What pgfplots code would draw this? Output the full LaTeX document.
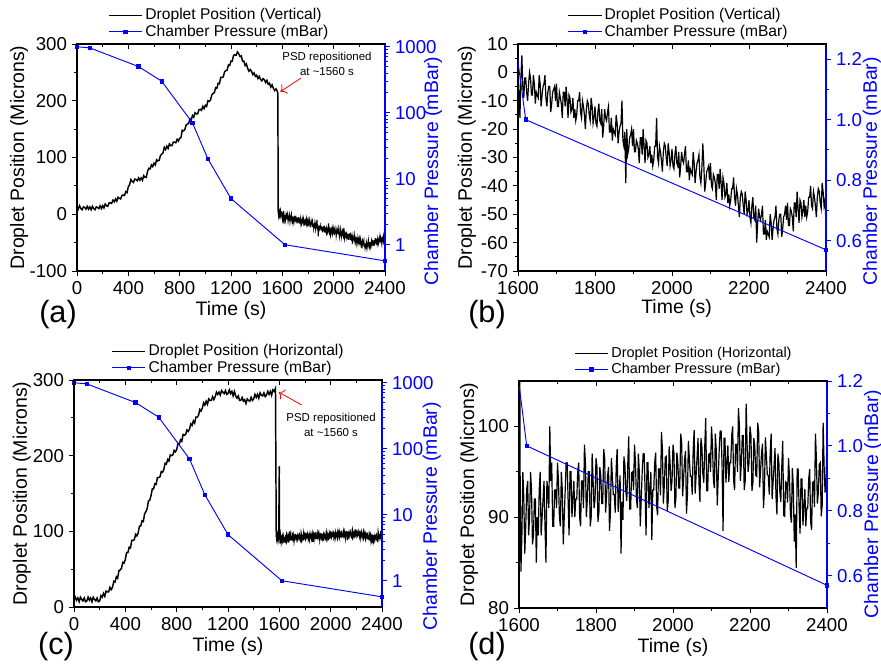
\documentclass[border=0pt]{standalone}
\usepackage{pgfplots}
\pgfplotsset{compat=1.18}
\usepackage{pgfplotstable}
\usepackage{fontspec}
\setmainfont{Liberation Sans}
\usetikzlibrary{arrows.meta}

% Vertical position, 0-1600 s
\pgfplotstableread[row sep=\\]{t y\\
0 14\\ 10 9\\ 20 15\\ 30 10\\ 40 8\\ 50 13\\ 60 12\\ 70 9\\ 80 14\\ 90 9\\
100 13\\ 110 8\\ 120 14\\ 130 10\\ 140 8\\ 150 13\\ 160 12\\ 170 10\\ 180 15\\ 190 10\\
200 15\\ 210 11\\ 220 18\\ 230 15\\ 240 14\\ 250 20\\ 260 20\\ 270 19\\ 280 25\\ 290 22\\
300 27\\ 310 23\\ 320 30\\ 330 28\\ 340 27\\ 350 33\\ 360 34\\ 370 33\\ 380 40\\ 390 38\\
400 49\\ 410 52\\ 420 61\\ 430 58\\ 440 56\\ 450 62\\ 460 61\\ 470 59\\ 480 64\\ 490 60\\
500 64\\ 510 60\\ 520 68\\ 530 65\\ 540 65\\ 550 76\\ 560 81\\ 570 80\\ 580 87\\ 590 84\\
600 90\\ 610 87\\ 620 96\\ 630 94\\ 640 95\\ 650 103\\ 660 106\\ 670 108\\ 680 118\\ 690 114\\
700 120\\ 710 116\\ 720 124\\ 730 121\\ 740 121\\ 750 127\\ 760 127\\ 770 126\\ 780 132\\ 790 129\\
800 134\\ 810 135\\ 820 148\\ 830 147\\ 840 149\\ 850 157\\ 860 159\\ 870 160\\ 880 168\\ 890 166\\
900 174\\ 910 171\\ 920 179\\ 930 177\\ 940 177\\ 950 184\\ 960 185\\ 970 183\\ 980 190\\ 990 186\\
1000 192\\ 1010 190\\ 1020 200\\ 1030 199\\ 1040 201\\ 1050 210\\ 1060 213\\ 1070 214\\ 1080 223\\ 1090 222\\
1100 231\\ 1110 230\\ 1120 241\\ 1130 241\\ 1140 242\\ 1150 251\\ 1160 253\\ 1170 254\\ 1180 263\\ 1190 262\\
1200 270\\ 1210 270\\ 1220 280\\ 1230 281\\ 1240 280\\ 1250 286\\ 1260 283\\ 1270 278\\ 1280 279\\ 1290 270\\
1300 270\\ 1310 262\\ 1320 265\\ 1330 257\\ 1340 252\\ 1350 255\\ 1360 252\\ 1370 246\\ 1380 249\\ 1390 243\\
1400 245\\ 1410 239\\ 1420 243\\ 1430 238\\ 1440 235\\ 1450 239\\ 1460 237\\ 1470 232\\ 1480 236\\ 1490 229\\
1500 231\\ 1510 224\\ 1520 228\\ 1530 222\\ 1540 218\\ 1550 221\\ 1560 217\\ 1565 213\\ 1568 5\\ 1572 -2\\
1576 4\\ 1580 -1\\ 1585 5\\ 1590 -3\\ 1595 3\\ 1600 2\\
}\va

% Vertical position, 1600-2400 s
\pgfplotstableread[row sep=\\]{t y\\
1600 2\\ 1602.5 -7\\ 1605 -16\\ 1607.5 -2\\ 1610 6\\ 1612.5 -5\\ 1615 -9\\ 1617.5 -2\\ 1620 -2\\ 1622.5 -7\\
1625 -10\\ 1627.5 -4\\ 1630 0\\ 1632.5 -2\\ 1635 -8\\ 1637.5 -8\\ 1640 -1\\ 1642.5 -4\\ 1645 -11\\ 1647.5 -7\\
1650 -8\\ 1652.5 -9\\ 1655 -1\\ 1657.5 -4\\ 1660 -12\\ 1662.5 -8\\ 1665 -5\\ 1667.5 -4\\ 1670 -1\\ 1672.5 -9\\
1675 -12\\ 1677.5 -7\\ 1680 -5\\ 1682.5 -5\\ 1685 -14\\ 1687.5 -11\\ 1690 -7\\ 1692.5 -6\\ 1695 -5\\ 1697.5 -10\\
1700 -4\\ 1702.5 -12\\ 1705 -12\\ 1707.5 -7\\ 1710 -9\\ 1712.5 -11\\ 1715 -16\\ 1717.5 -7\\ 1720 -7\\ 1722.5 -12\\
1725 -5\\ 1727.5 -10\\ 1730 -16\\ 1732.5 -8\\ 1735 -9\\ 1737.5 -14\\ 1740 -13\\ 1742.5 -9\\ 1745 -16\\ 1747.5 -13\\
1750 -17\\ 1752.5 -15\\ 1755 -10\\ 1757.5 -10\\ 1760 -7\\ 1762.5 -14\\ 1765 -16\\ 1767.5 -10\\ 1770 -12\\ 1772.5 -15\\
1775 -20\\ 1777.5 -13\\ 1780 -10\\ 1782.5 -11\\ 1785 -15\\ 1787.5 -17\\ 1790 -9\\ 1792.5 -12\\ 1795 -18\\ 1797.5 -16\\
1800 -12\\ 1802.5 -18\\ 1805 -19\\ 1807.5 -14\\ 1810 -11\\ 1812.5 -17\\ 1815 -18\\ 1817.5 -13\\ 1820 -23\\ 1822.5 -19\\
1825 -13\\ 1827.5 -16\\ 1830 -17\\ 1832.5 -14\\ 1835 -12\\ 1837.5 -21\\ 1840 -21\\ 1842.5 -16\\ 1845 -24\\ 1847.5 -20\\
1850 -21\\ 1852.5 -22\\ 1855 -15\\ 1857.5 -18\\ 1860 -25\\ 1862.5 -21\\ 1865 -19\\ 1867.5 -18\\ 1870 -10\\ 1872.5 -24\\
1875 -26\\ 1877.5 -21\\ 1880 -39\\ 1882.5 -20\\ 1885 -29\\ 1887.5 -27\\ 1890 -23\\ 1892.5 -22\\ 1895 -20\\ 1897.5 -26\\
1900 -20\\ 1902.5 -28\\ 1905 -28\\ 1907.5 -24\\ 1910 -25\\ 1912.5 -27\\ 1915 -32\\ 1917.5 -23\\ 1920 -23\\ 1922.5 -29\\
1925 -20\\ 1927.5 -26\\ 1930 -32\\ 1932.5 -24\\ 1935 -25\\ 1937.5 -30\\ 1940 -29\\ 1942.5 -26\\ 1945 -32\\ 1947.5 -29\\
1950 -33\\ 1952.5 -31\\ 1955 -26\\ 1957.5 -26\\ 1960 -16\\ 1962.5 -30\\ 1965 -32\\ 1967.5 -26\\ 1970 -28\\ 1972.5 -31\\
1975 -35\\ 1977.5 -28\\ 1980 -25\\ 1982.5 -26\\ 1985 -30\\ 1987.5 -33\\ 1990 -25\\ 1992.5 -28\\ 1995 -33\\ 1997.5 -31\\
2000 -27\\ 2002.5 -33\\ 2005 -34\\ 2007.5 -29\\ 2010 -26\\ 2012.5 -32\\ 2015 -33\\ 2017.5 -28\\ 2020 -37\\ 2022.5 -33\\
2025 -28\\ 2027.5 -31\\ 2030 -32\\ 2032.5 -29\\ 2035 -26\\ 2037.5 -35\\ 2040 -35\\ 2042.5 -31\\ 2045 -38\\ 2047.5 -34\\
2050 -35\\ 2052.5 -36\\ 2055 -28\\ 2057.5 -32\\ 2060 -39\\ 2062.5 -35\\ 2065 -32\\ 2067.5 -31\\ 2070 -29\\ 2072.5 -37\\
2075 -39\\ 2077.5 -34\\ 2080 -25\\ 2082.5 -32\\ 2085 -42\\ 2087.5 -39\\ 2090 -35\\ 2092.5 -34\\ 2095 -33\\ 2097.5 -38\\
2100 -32\\ 2102.5 -40\\ 2105 -41\\ 2107.5 -36\\ 2110 -37\\ 2112.5 -39\\ 2115 -45\\ 2117.5 -36\\ 2120 -36\\ 2122.5 -41\\
2125 -34\\ 2127.5 -39\\ 2130 -45\\ 2132.5 -37\\ 2135 -39\\ 2137.5 -44\\ 2140 -43\\ 2142.5 -39\\ 2145 -46\\ 2147.5 -43\\
2150 -47\\ 2152.5 -45\\ 2155 -41\\ 2157.5 -41\\ 2160 -37\\ 2162.5 -44\\ 2165 -47\\ 2167.5 -41\\ 2170 -43\\ 2172.5 -47\\
2175 -51\\ 2177.5 -44\\ 2180 -42\\ 2182.5 -43\\ 2185 -47\\ 2187.5 -50\\ 2190 -42\\ 2192.5 -45\\ 2195 -50\\ 2197.5 -49\\
2200 -45\\ 2202.5 -51\\ 2205 -53\\ 2207.5 -47\\ 2210 -44\\ 2212.5 -51\\ 2215 -52\\ 2217.5 -47\\ 2220 -60\\ 2222.5 -53\\
2225 -48\\ 2227.5 -51\\ 2230 -52\\ 2232.5 -50\\ 2235 -47\\ 2237.5 -57\\ 2240 -57\\ 2242.5 -52\\ 2245 -59\\ 2247.5 -56\\
2250 -57\\ 2252.5 -58\\ 2255 -50\\ 2257.5 -53\\ 2260 -59\\ 2262.5 -55\\ 2265 -52\\ 2267.5 -51\\ 2270 -47\\ 2272.5 -55\\
2275 -57\\ 2277.5 -52\\ 2280 -50\\ 2282.5 -50\\ 2285 -58\\ 2287.5 -55\\ 2290 -51\\ 2292.5 -50\\ 2295 -47\\ 2297.5 -52\\
2300 -46\\ 2302.5 -54\\ 2305 -54\\ 2307.5 -48\\ 2310 -49\\ 2312.5 -51\\ 2315 -56\\ 2317.5 -46\\ 2320 -46\\ 2322.5 -51\\
2325 -42\\ 2327.5 -48\\ 2330 -53\\ 2332.5 -45\\ 2335 -46\\ 2337.5 -51\\ 2340 -49\\ 2342.5 -45\\ 2345 -51\\ 2347.5 -47\\
2350 -51\\ 2352.5 -49\\ 2355 -44\\ 2357.5 -44\\ 2360 -40\\ 2362.5 -47\\ 2365 -48\\ 2367.5 -42\\ 2370 -44\\ 2372.5 -47\\
2375 -51\\ 2377.5 -44\\ 2380 -41\\ 2382.5 -42\\ 2385 -46\\ 2387.5 -48\\ 2390 -39\\ 2392.5 -42\\ 2395 -47\\ 2397.5 -45\\
2400 -54\\
}\vb

% Horizontal position, 0-1600 s
\pgfplotstableread[row sep=\\]{t y\\
0 8\\ 10 13\\ 20 9\\ 30 12\\ 40 7\\ 50 13\\ 60 10\\ 70 8\\ 80 12\\ 90 7\\
100 8\\ 110 13\\ 120 9\\ 130 12\\ 140 7\\ 150 13\\ 160 10\\ 170 8\\ 180 12\\ 190 7\\
200 8\\ 210 15\\ 220 13\\ 230 18\\ 240 14\\ 250 21\\ 260 20\\ 270 20\\ 280 26\\ 290 23\\
300 26\\ 310 34\\ 320 33\\ 330 40\\ 340 38\\ 350 48\\ 360 49\\ 370 51\\ 380 59\\ 390 58\\
400 63\\ 410 72\\ 420 72\\ 430 79\\ 440 78\\ 450 88\\ 460 88\\ 470 89\\ 480 96\\ 490 94\\
500 98\\ 510 107\\ 520 107\\ 530 114\\ 540 113\\ 550 123\\ 560 126\\ 570 130\\ 580 140\\ 590 141\\
600 147\\ 610 156\\ 620 156\\ 630 163\\ 640 162\\ 650 171\\ 660 171\\ 670 172\\ 680 179\\ 690 178\\
700 182\\ 710 190\\ 720 189\\ 730 195\\ 740 193\\ 750 201\\ 760 200\\ 770 201\\ 780 207\\ 790 205\\
800 208\\ 810 216\\ 820 215\\ 830 221\\ 840 219\\ 850 228\\ 860 227\\ 870 228\\ 880 234\\ 890 232\\
900 235\\ 910 242\\ 920 240\\ 930 246\\ 940 243\\ 950 251\\ 960 251\\ 970 253\\ 980 261\\ 990 259\\
1000 263\\ 1010 270\\ 1020 267\\ 1030 272\\ 1040 268\\ 1050 275\\ 1060 273\\ 1070 273\\ 1080 278\\ 1090 274\\
1100 278\\ 1110 284\\ 1120 281\\ 1130 284\\ 1140 280\\ 1150 286\\ 1160 284\\ 1170 282\\ 1180 286\\ 1190 281\\
1200 282\\ 1210 287\\ 1220 282\\ 1230 285\\ 1240 279\\ 1250 285\\ 1260 279\\ 1270 276\\ 1280 279\\ 1290 273\\
1300 273\\ 1310 277\\ 1320 272\\ 1330 274\\ 1340 269\\ 1350 275\\ 1360 273\\ 1370 272\\ 1380 277\\ 1390 273\\
1400 275\\ 1410 281\\ 1420 277\\ 1430 281\\ 1440 276\\ 1450 283\\ 1460 280\\ 1470 279\\ 1480 283\\ 1490 278\\
1500 280\\ 1510 285\\ 1520 281\\ 1530 285\\ 1540 280\\ 1550 287\\ 1560 285\\ 1570 289\\ 1576 95\\ 1580 90\\
1585 95\\ 1590 88\\ 1595 93\\ 1600 186\\
}\ha

% Horizontal position, 1600-2400 s
\pgfplotstableread[row sep=\\]{t y\\
1600 186\\ 1602.5 97\\ 1605 84\\ 1607.5 88\\ 1610 95\\ 1612.5 92\\ 1615 86\\ 1617.5 89\\ 1620 93\\ 1622.5 94\\
1625 88\\ 1627.5 90\\ 1630 95\\ 1632.5 93\\ 1635 87\\ 1637.5 88\\ 1640 92\\ 1642.5 92\\ 1645 85\\ 1647.5 90\\
1650 88\\ 1652.5 93\\ 1655 95\\ 1657.5 88\\ 1660 90\\ 1662.5 92\\ 1665 94\\ 1667.5 89\\ 1670 85\\ 1672.5 94\\
1675 93\\ 1677.5 91\\ 1680 100\\ 1682.5 94\\ 1685 96\\ 1687.5 89\\ 1690 89\\ 1692.5 93\\ 1695 93\\ 1697.5 91\\
1700 96\\ 1702.5 94\\ 1705 90\\ 1707.5 89\\ 1710 95\\ 1712.5 93\\ 1715 87\\ 1717.5 90\\ 1720 93\\ 1722.5 96\\
1725 96\\ 1727.5 92\\ 1730 88\\ 1732.5 95\\ 1735 95\\ 1737.5 90\\ 1740 92\\ 1742.5 94\\ 1745 90\\ 1747.5 92\\
1750 92\\ 1752.5 95\\ 1755 96\\ 1757.5 90\\ 1760 89\\ 1762.5 94\\ 1765 94\\ 1767.5 91\\ 1770 98\\ 1772.5 96\\
1775 90\\ 1777.5 92\\ 1780 95\\ 1782.5 95\\ 1785 89\\ 1787.5 90\\ 1790 97\\ 1792.5 94\\ 1795 91\\ 1797.5 92\\
1800 96.5\\ 1802.5 95.5\\ 1805 89.5\\ 1807.5 90.5\\ 1810 95.5\\ 1812.5 94.5\\ 1815 91.5\\ 1817.5 91.5\\ 1820 97.5\\ 1822.5 96.5\\
1825 90.5\\ 1827.5 92.5\\ 1830 94.5\\ 1832.5 95.5\\ 1835 88.5\\ 1837.5 90.5\\ 1840 96.5\\ 1842.5 94.5\\ 1845 92.5\\ 1847.5 92.5\\
1850 90.5\\ 1852.5 95.5\\ 1855 97.5\\ 1857.5 90.6\\ 1860 92.5\\ 1862.5 94.6\\ 1865 86\\ 1867.5 91.7\\ 1870 89.7\\ 1872.5 96.7\\
1875 95.8\\ 1877.5 92.8\\ 1880 91.8\\ 1882.5 95.8\\ 1885 98.9\\ 1887.5 90.9\\ 1890 90.9\\ 1892.5 94.9\\ 1895 95\\ 1897.5 93\\
1900 98\\ 1902.5 96\\ 1905 92\\ 1907.5 91\\ 1910 97\\ 1912.5 95\\ 1915 89\\ 1917.5 92\\ 1920 95\\ 1922.5 97\\
1925 97\\ 1927.5 93\\ 1930 88\\ 1932.5 96\\ 1935 96\\ 1937.5 91\\ 1940 93\\ 1942.5 95\\ 1945 87.5\\ 1947.5 93\\
1950 93\\ 1952.5 96\\ 1955 97.1\\ 1957.5 91.2\\ 1960 90.2\\ 1962.5 95.3\\ 1965 95.3\\ 1967.5 92.4\\ 1970 99.4\\ 1972.5 97.5\\
1975 91.5\\ 1977.5 93.6\\ 1980 96.6\\ 1982.5 96.7\\ 1985 90.7\\ 1987.5 91.8\\ 1990 97.8\\ 1992.5 95.9\\ 1995 92.9\\ 1997.5 94\\
2000 98\\ 2002.5 97\\ 2005 91\\ 2007.5 92.1\\ 2010 97.1\\ 2012.5 96.1\\ 2015 93.2\\ 2017.5 93.2\\ 2020 99.2\\ 2022.5 98.2\\
2025 92.3\\ 2027.5 94.3\\ 2030 96.3\\ 2032.5 97.3\\ 2035 90.4\\ 2037.5 92.4\\ 2040 98.4\\ 2042.5 96.4\\ 2045 94.5\\ 2047.5 94.5\\
2050 92.5\\ 2052.5 97.5\\ 2055 99.6\\ 2057.5 92.6\\ 2060 94.6\\ 2062.5 96.6\\ 2065 98.7\\ 2067.5 93.7\\ 2070 91.7\\ 2072.5 98.7\\
2075 97.8\\ 2077.5 94.8\\ 2080 93.8\\ 2082.5 97.8\\ 2085 100.9\\ 2087.5 92.9\\ 2090 92.9\\ 2092.5 96.9\\ 2095 97\\ 2097.5 95\\
2100 100\\ 2102.5 98\\ 2105 94.1\\ 2107.5 93.2\\ 2110 99.2\\ 2112.5 97.3\\ 2115 91.3\\ 2117.5 94.4\\ 2120 97.4\\ 2122.5 99.5\\
2125 99.5\\ 2127.5 95.6\\ 2130 88.5\\ 2132.5 98.7\\ 2135 98.7\\ 2137.5 93.8\\ 2140 95.8\\ 2142.5 97.9\\ 2145 93.9\\ 2147.5 96\\
2150 96\\ 2152.5 99\\ 2155 100\\ 2157.5 94\\ 2160 93\\ 2162.5 98\\ 2165 98\\ 2167.5 95\\ 2170 102\\ 2172.5 100\\
2175 94\\ 2177.5 96\\ 2180 99\\ 2182.5 99\\ 2185 93\\ 2187.5 94\\ 2190 102.5\\ 2192.5 98\\ 2195 95\\ 2197.5 96\\
2200 100\\ 2202.5 99\\ 2205 92.9\\ 2207.5 93.8\\ 2210 98.7\\ 2212.5 97.7\\ 2215 94.6\\ 2217.5 94.5\\ 2220 100.4\\ 2222.5 99.4\\
2225 93.3\\ 2227.5 95.2\\ 2230 97.1\\ 2232.5 98.1\\ 2235 91\\ 2237.5 93\\ 2240 98.8\\ 2242.5 96.8\\ 2245 94.7\\ 2247.5 94.6\\
2250 92.5\\ 2252.5 97.3\\ 2255 99.2\\ 2257.5 92\\ 2260 93.9\\ 2262.5 95.6\\ 2265 97.6\\ 2267.5 92.3\\ 2270 90.3\\ 2272.5 97\\
2275 96\\ 2277.5 92.8\\ 2280 91.7\\ 2282.5 95.5\\ 2285 98.4\\ 2287.5 90.2\\ 2290 90.1\\ 2292.5 93.9\\ 2295 93.8\\ 2297.5 91.6\\
2300 96.5\\ 2302.5 94.5\\ 2305 90.4\\ 2307.5 89.4\\ 2310 95.4\\ 2312.5 93.4\\ 2315 87.3\\ 2317.5 90.3\\ 2320 84.4\\ 2322.5 95.3\\
2325 95.3\\ 2327.5 91.2\\ 2330 88.2\\ 2332.5 94.2\\ 2335 94.2\\ 2337.5 89.1\\ 2340 91.1\\ 2342.5 93.1\\ 2345 89\\ 2347.5 91\\
2350 91\\ 2352.5 94.2\\ 2355 95.3\\ 2357.5 89.5\\ 2360 88.6\\ 2362.5 93.8\\ 2365 93.9\\ 2367.5 91.1\\ 2370 99.2\\ 2372.5 96.4\\
2375 91.5\\ 2377.5 92.7\\ 2380 95.8\\ 2382.5 96\\ 2385 90.1\\ 2387.5 91.3\\ 2390 100.4\\ 2392.5 95.6\\ 2395 92.7\\ 2397.5 94\\
2400 99\\
}\hb

% Chamber pressure
\pgfplotstableread[row sep=\\]{t p\\
0 1000\\ 100 960\\ 480 500\\ 660 300\\ 900 70\\ 1020 20\\ 1200 5\\ 1620 1.0\\ 2400 0.57\\
}\pres

\tikzset{annot/.style={font=\fontsize{8.6}{11}\selectfont, align=center}}
\pgfplotsset{
  panel/.style={
    scale only axis, width=231pt, height=170.25pt, anchor=south west,
    /pgf/number format/assume math mode=true,
    /pgf/number format/1000 sep={},
    tick align=outside,
    major tick length=4pt, minor tick length=2.5pt,
    every tick/.style={line width=0.7pt},
    axis line style={line width=0.8pt},
    tick label style={font=\fontsize{14}{16}\selectfont},
    label style={font=\fontsize{14.6}{17}\selectfont},
  },
  lax/.style={panel, xtick pos=left, ytick pos=left,
    legend style={draw=none, fill=none, anchor=south west,
      font=\fontsize{11.7}{13}\selectfont, cells={anchor=west},
      row sep=-1.5pt, inner sep=1pt},
    legend image code/.code={\draw[mark repeat=2,mark phase=2,##1] plot coordinates {(0cm,0cm) (0.44cm,0cm) (0.88cm,0cm)};},
  },
  rax/.style={panel, axis x line=none, axis y line*=right,
    y axis line style={blue, line width=0.8pt},
    ytick style={blue}, yticklabel style={blue}, ylabel style={blue}},
  tax/.style={panel, axis y line=none, axis x line*=top, tick align=inside,
    xticklabels={}, ymin=0, ymax=1},
  trace/.style={black, line width=0.9pt},
  thick trace/.style={black, line width=1.1pt},
  legline/.style={black, line width=0.6pt},
  pres/.style={blue, line width=0.7pt, mark=square*, mark size=1.3pt, mark options={solid}},
}

\begin{document}
\begin{tikzpicture}
\useasboundingbox (0,0) rectangle (660.75pt,501pt);

% ---------------- (a) ----------------
\begin{axis}[lax, at={(57.75pt,297.75pt)}, xmin=0, xmax=2400, ymin=-100, ymax=300,
  xtick={0,400,...,2400}, ytick={-100,0,...,300}, minor x tick num=1, minor y tick num=1,
  xlabel={Time (s)}, ylabel={Droplet Position (Microns)},
  xlabel style={at={(axis description cs:0.5,-0.172)}, anchor=center},
  ylabel style={at={(axis description cs:-0.188,0.5)}, anchor=center},
  legend style={at={(0.097,1.005)}}]
\addplot[thick trace, forget plot] table[x=t,y=y]{\va};
\addplot[trace, forget plot] table[x=t,y=y]{\vb};
\addlegendimage{legline}
\addlegendentry{Droplet Position (Vertical)}
\addlegendimage{pres}
\addlegendentry{Chamber Pressure (mBar)}
\node[annot] at (axis cs:1948,265) {PSD repositioned\\at \textasciitilde1560 s};
\draw[red, line width=0.6pt, -{To[length=4pt]}] (axis cs:1745,240) -- (axis cs:1585,216);
\end{axis}
\begin{axis}[rax, at={(57.75pt,297.75pt)}, xmin=0, xmax=2400, ymode=log, ymin=0.4, ymax=1100,
  log ticks with fixed point, ytick={1,10,100,1000},
  ylabel={Chamber Pressure (mBar)},
  ylabel style={at={(axis description cs:1.156,0.44)}, anchor=center}]
\addplot[pres] table[x=t,y=p]{\pres};
\end{axis}
\begin{axis}[tax, at={(57.75pt,297.75pt)}, xmin=0, xmax=2400, xtick={0,400,...,2400}, minor x tick num=1]
\end{axis}
\node[font=\fontsize{23}{26}\selectfont] at (43.5pt,264.75pt) {(a)};

% ---------------- (b) ----------------
\begin{axis}[lax, at={(388.5pt,297.75pt)}, xmin=1600, xmax=2400, ymin=-70, ymax=10,
  xtick={1600,1800,...,2400}, ytick={-70,-60,...,10}, minor x tick num=1, minor y tick num=1,
  xlabel={Time (s)}, ylabel={Droplet Position (Microns)},
  xlabel style={at={(axis description cs:0.515,-0.163)}, anchor=center},
  ylabel style={at={(axis description cs:-0.166,0.5)}, anchor=center},
  legend style={at={(0.156,1.005)}}]
\addplot[trace, forget plot] table[x=t,y=y]{\vb};
\addlegendimage{legline}
\addlegendentry{Droplet Position (Vertical)}
\addlegendimage{pres}
\addlegendentry{Chamber Pressure (mBar)}
\end{axis}
\begin{axis}[rax, at={(388.5pt,297.75pt)}, xmin=1600, xmax=2400, ymin=0.5, ymax=1.25,
  ytick={0.6,0.8,1.0,1.2}, minor y tick num=1,
  yticklabel style={/pgf/number format/.cd, fixed, fixed zerofill, precision=1},
  ylabel={Chamber Pressure (mBar)},
  ylabel style={at={(axis description cs:1.149,0.44)}, anchor=center}]
\addplot[pres, restrict x to domain=1100:2500] table[x=t,y=p]{\pres};
\end{axis}
\begin{axis}[tax, at={(388.5pt,297.75pt)}, xmin=1600, xmax=2400, xtick={1600,1800,...,2400}, minor x tick num=1]
\end{axis}
\node[font=\fontsize{23}{26}\selectfont] at (365.25pt,264.75pt) {(b)};

% ---------------- (c) ----------------
\begin{axis}[lax, at={(55.5pt,45.75pt)}, xmin=0, xmax=2400, ymin=0, ymax=300,
  xtick={0,400,...,2400}, ytick={0,100,200,300}, minor x tick num=1, minor y tick num=1,
  xlabel={Time (s)}, ylabel={Droplet Position (Microns)},
  xlabel style={at={(axis description cs:0.5,-0.176)}, anchor=center},
  ylabel style={at={(axis description cs:-0.169,0.5)}, anchor=center},
  legend style={at={(0.117,1.005)}}]
\addplot[thick trace, forget plot] table[x=t,y=y]{\ha};
\addplot[trace, forget plot] table[x=t,y=y]{\hb};
\addlegendimage{legline}
\addlegendentry{Droplet Position (Horizontal)}
\addlegendimage{pres}
\addlegendentry{Chamber Pressure (mBar)}
\node[annot] at (axis cs:2003,240.5) {PSD repositioned\\at \textasciitilde1560 s};
\draw[red, line width=0.6pt, -{To[length=4pt]}] (axis cs:1774,267) -- (axis cs:1595,284);
\end{axis}
\begin{axis}[rax, at={(55.5pt,45.75pt)}, xmin=0, xmax=2400, ymode=log, ymin=0.4, ymax=1100,
  log ticks with fixed point, ytick={1,10,100,1000},
  ylabel={Chamber Pressure (mBar)},
  ylabel style={at={(axis description cs:1.162,0.40)}, anchor=center}]
\addplot[pres] table[x=t,y=p]{\pres};
\end{axis}
\begin{axis}[tax, at={(55.5pt,45.75pt)}, xmin=0, xmax=2400, xtick={0,400,...,2400}, minor x tick num=1]
\end{axis}
\node[font=\fontsize{23}{26}\selectfont] at (42pt,15.75pt) {(c)};

% ---------------- (d) ----------------
\begin{axis}[lax, at={(389.25pt,45pt)}, xmin=1600, xmax=2400, ymin=80, ymax=105,
  xtick={1600,1800,...,2400}, ytick={80,90,100}, minor x tick num=1, minor y tick num=1,
  xlabel={Time (s)}, ylabel={Droplet Position (Microns)},
  xlabel style={at={(axis description cs:0.5,-0.172)}, anchor=center},
  ylabel style={at={(axis description cs:-0.162,0.5)}, anchor=center},
  legend style={at={(0.175,1.005)}, font=\fontsize{10.8}{12}\selectfont}]
\addplot[trace, forget plot] table[x=t,y=y]{\hb};
\addlegendimage{legline}
\addlegendentry{Droplet Position (Horizontal)}
\addlegendimage{pres}
\addlegendentry{Chamber Pressure (mBar)}
\end{axis}
\begin{axis}[rax, at={(389.25pt,45pt)}, xmin=1600, xmax=2400, ymin=0.5, ymax=1.2,
  ytick={0.6,0.8,1.0,1.2}, minor y tick num=1,
  yticklabel style={/pgf/number format/.cd, fixed, fixed zerofill, precision=1},
  ylabel={Chamber Pressure (mBar)},
  ylabel style={at={(axis description cs:1.15,0.458)}, anchor=center}]
\addplot[pres, restrict x to domain=1100:2500] table[x=t,y=p]{\pres};
\end{axis}
\begin{axis}[tax, at={(389.25pt,45pt)}, xmin=1600, xmax=2400, xtick={1600,1800,...,2400}, minor x tick num=1]
\end{axis}
\node[font=\fontsize{23}{26}\selectfont] at (365.25pt,15.75pt) {(d)};

\end{tikzpicture}
\end{document}
